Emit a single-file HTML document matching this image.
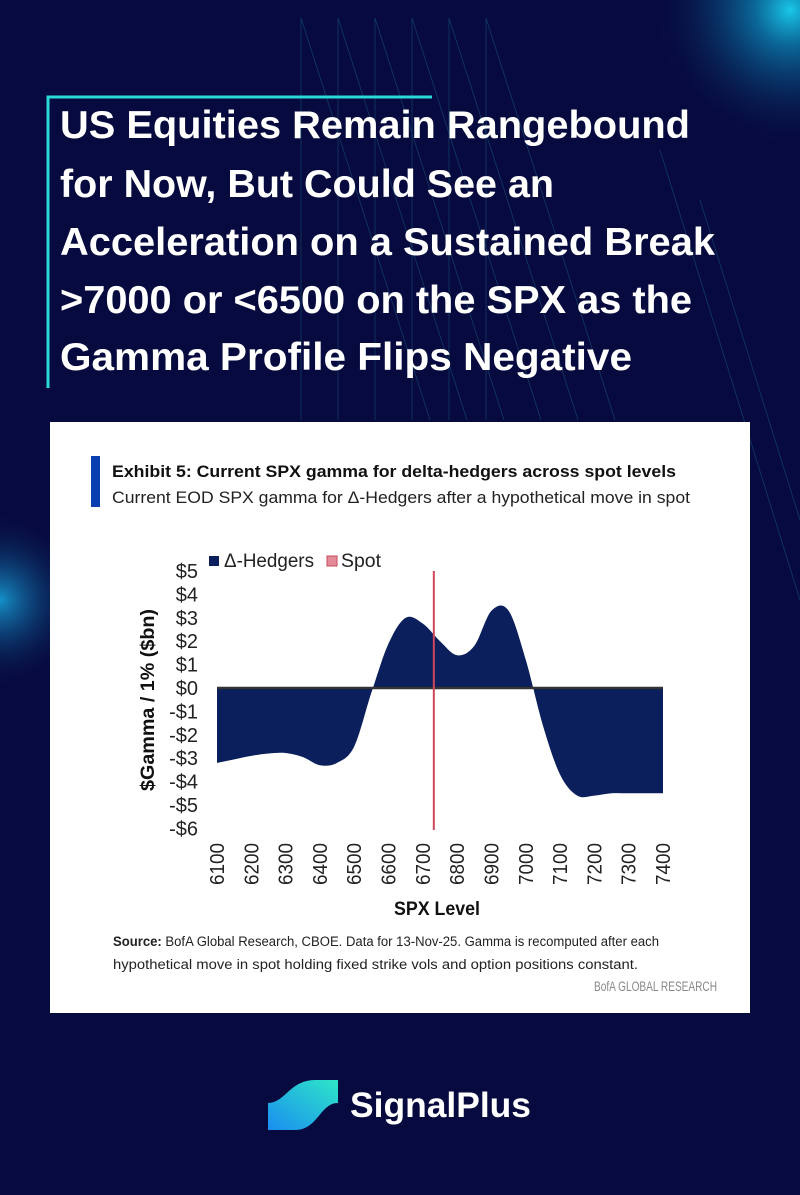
<!DOCTYPE html>
<html><head><meta charset="utf-8"><style>
html,body{margin:0;padding:0;background:#070a3e;}
svg{display:block;}
text{font-family:"Liberation Sans",sans-serif;}
</style></head><body>
<svg id="root" width="800" height="1195" viewBox="0 0 800 1195">
<defs>
<radialGradient id="g1" cx="790" cy="10" r="140" gradientUnits="userSpaceOnUse">
<stop offset="0" stop-color="#19c8e8"/><stop offset="0.25" stop-color="#0c7fb0" stop-opacity="0.8"/><stop offset="1" stop-color="#070a3e" stop-opacity="0"/></radialGradient>
<radialGradient id="g2" cx="0" cy="600" r="90" gradientUnits="userSpaceOnUse">
<stop offset="0" stop-color="#1590c8"/><stop offset="1" stop-color="#070a3e" stop-opacity="0"/></radialGradient>
<linearGradient id="lg" x1="0" y1="1" x2="1" y2="0"><stop offset="0" stop-color="#1a8ef0"/><stop offset="1" stop-color="#2ee6c8"/></linearGradient>
</defs>
<rect width="800" height="1195" fill="#070a3e"/>
<rect width="800" height="1195" fill="url(#g1)"/>
<rect width="800" height="1195" fill="url(#g2)"/>
<g stroke="#1a6a8a" stroke-width="0.8" opacity="0.5">
<line x1="301" y1="18" x2="430" y2="420"/><line x1="338" y1="18" x2="467" y2="420"/>
<line x1="375" y1="18" x2="504" y2="420"/><line x1="412" y1="18" x2="541" y2="420"/>
<line x1="449" y1="18" x2="578" y2="420"/><line x1="486" y1="18" x2="615" y2="420"/>
<line x1="301" y1="18" x2="301" y2="420"/><line x1="338" y1="18" x2="338" y2="420"/>
<line x1="375" y1="18" x2="375" y2="420"/><line x1="412" y1="18" x2="412" y2="420"/>
<line x1="449" y1="18" x2="449" y2="420"/><line x1="486" y1="18" x2="486" y2="420"/>
<line x1="700" y1="200" x2="800" y2="520"/><line x1="660" y1="150" x2="800" y2="600"/>
</g>
<g>
<path d="M48 388 V97 H432" fill="none" stroke="#2bd9d9" stroke-width="3"/>
<g fill="#fff" font-weight="bold" font-size="39">
<text x="60" y="138" textLength="630" lengthAdjust="spacingAndGlyphs">US Equities Remain Rangebound</text>
<text x="60" y="197" textLength="494" lengthAdjust="spacingAndGlyphs">for Now, But Could See an</text>
<text x="60" y="255" textLength="655" lengthAdjust="spacingAndGlyphs">Acceleration on a Sustained Break</text>
<text x="60" y="313" textLength="632" lengthAdjust="spacingAndGlyphs">&gt;7000 or &lt;6500 on the SPX as the</text>
<text x="60" y="370" textLength="572" lengthAdjust="spacingAndGlyphs">Gamma Profile Flips Negative</text>
</g></g>
<g>
<rect x="50" y="422" width="700" height="591" fill="#fff"/>
<rect x="91" y="456" width="9" height="51" fill="#0b3fb0"/>
<text x="112" y="477" font-size="17" font-weight="bold" fill="#111" textLength="564" lengthAdjust="spacingAndGlyphs">Exhibit 5: Current SPX gamma for delta-hedgers across spot levels</text>
<text x="112" y="503" font-size="17" fill="#222" textLength="578" lengthAdjust="spacingAndGlyphs">Current EOD SPX gamma for Δ-Hedgers after a hypothetical move in spot</text>
<rect x="209" y="556" width="10" height="10" fill="#0a1f5c"/>
<text x="224" y="567" font-size="19" fill="#222" textLength="90" lengthAdjust="spacingAndGlyphs">Δ-Hedgers</text>
<rect x="327" y="556" width="10" height="10" fill="#e28a98" stroke="#c94a5c"/>
<text x="341" y="567" font-size="19" fill="#222" textLength="40" lengthAdjust="spacingAndGlyphs">Spot</text>
<g id="plot"></g>
<text transform="translate(154,700) rotate(-90)" text-anchor="middle" font-size="19" font-weight="bold" fill="#111" textLength="182" lengthAdjust="spacingAndGlyphs">$Gamma / 1% ($bn)</text>
<text x="437" y="915" text-anchor="middle" font-size="19" font-weight="bold" fill="#111" textLength="86" lengthAdjust="spacingAndGlyphs">SPX Level</text>
<text x="113" y="946" font-size="13.5" fill="#222" textLength="546" lengthAdjust="spacingAndGlyphs"><tspan font-weight="bold">Source:</tspan> BofA Global Research, CBOE. Data for 13-Nov-25. Gamma is recomputed after each</text>
<text x="113" y="969" font-size="13.5" fill="#222" textLength="525" lengthAdjust="spacingAndGlyphs">hypothetical move in spot holding fixed strike vols and option positions constant.</text>
<text x="717" y="991" text-anchor="end" font-size="13.5" fill="#888" textLength="123" lengthAdjust="spacingAndGlyphs">BofA GLOBAL RESEARCH</text>
</g>
<g>
<path d="M268 1103 C285 1103 290 1080 315 1080 L338 1080 L338 1103 C320 1103 318 1130 295 1130 L268 1130 Z" fill="url(#lg)"/>
<text x="350" y="1117" font-size="35" font-weight="bold" fill="#fff" textLength="181" lengthAdjust="spacingAndGlyphs">SignalPlus</text>
</g>
</svg>
<script>
const categories=[6100,6150,6200,6250,6300,6350,6400,6450,6500,6550,6600,6650,6700,6750,6800,6850,6900,6950,7000,7050,7100,7150,7200,7250,7300,7350,7400];
const gammaValues=[-3.2,-3.05,-2.9,-2.8,-2.78,-2.95,-3.3,-3.2,-2.5,-0.2,1.9,3.0,2.75,2.0,1.4,1.8,3.3,3.3,1.2,-1.6,-3.7,-4.6,-4.6,-4.5,-4.5,-4.5,-4.5];
const xTickLabels=[6100,6200,6300,6400,6500,6600,6700,6800,6900,7000,7100,7200,7300,7400];
const yTickValues=[5,4,3,2,1,0,-1,-2,-3,-4,-5,-6];
const spotLevel=6732;
const NS='http://www.w3.org/2000/svg';
const plot=document.getElementById('plot');
const X=v=>217+(v-6100)/1300*446;
const Y=v=>688-v*23.4;
function mk(t,a){const e=document.createElementNS(NS,t);for(const k in a)e.setAttribute(k,a[k]);plot.appendChild(e);return e;}
const pts=categories.map((c,i)=>[X(c),Y(gammaValues[i])]);
let d='M'+X(categories[0])+' '+Y(0)+' L'+pts[0][0]+' '+pts[0][1];
for(let i=0;i<pts.length-1;i++){const p0=pts[Math.max(0,i-1)],p1=pts[i],p2=pts[i+1],p3=pts[Math.min(pts.length-1,i+2)];
d+=' C'+(p1[0]+(p2[0]-p0[0])/6)+' '+(p1[1]+(p2[1]-p0[1])/6)+' '+(p2[0]-(p3[0]-p1[0])/6)+' '+(p2[1]-(p3[1]-p1[1])/6)+' '+p2[0]+' '+p2[1];}
d+=' L'+X(categories[categories.length-1])+' '+Y(0)+' Z';
const area=mk('path',{d:d,fill:'#0a1f5c'});


const zl=mk('line',{x1:X(6100),x2:X(7400),y1:Y(0),y2:Y(0),stroke:'#333','stroke-width':2.5});


const sp=mk('line',{x1:X(spotLevel),x2:X(spotLevel),y1:571,y2:830,stroke:'#d0475c','stroke-width':2});


yTickValues.forEach(v=>{const t=mk('text',{x:198,y:Y(v)+7,'text-anchor':'end','font-size':20,fill:'#222'});


t.textContent=(v<0?'-$':'$')+Math.abs(v);});
xTickLabels.forEach(v=>{const t=mk('text',{transform:'translate('+(X(v)+7)+',885) rotate(-90)','font-size':20,fill:'#222',textLength:42,lengthAdjust:'spacingAndGlyphs'});


t.textContent=v;});
</script>
</body></html>
